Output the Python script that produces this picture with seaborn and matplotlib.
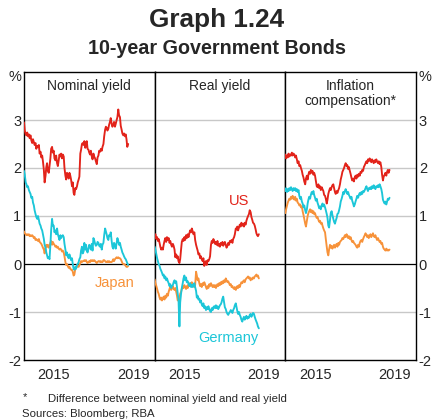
import numpy as np
import pandas as pd
import matplotlib
matplotlib.use("Agg")
import matplotlib.pyplot as plt
import seaborn as sns

# ---------------- data (semi-monthly observations, Jan 2014 - Apr 2019) ----------------
start_date = "2014-01-01"
n_obs = 127
countries = ["Japan", "Germany", "US"]
measures = ["Nominal yield", "Real yield", "Inflation\ncompensation*"]

us_nominal = [
    2.95, 2.78, 2.70, 2.68, 2.74, 2.66, 2.70, 2.62, 2.68, 2.58, 2.52, 2.60,
    2.54, 2.48, 2.52, 2.40, 2.46, 2.44, 2.48, 2.30, 2.34, 2.22, 2.26, 2.14,
    1.96, 1.70, 1.84, 2.02, 2.10, 1.94, 1.90, 2.04, 2.20, 2.40, 2.44, 2.32,
    2.36, 2.20, 2.16, 2.26, 2.10, 2.04, 2.16, 2.28, 2.24, 2.30, 2.20, 2.28,
    2.24, 2.00, 1.84, 1.76, 1.90, 1.84, 1.78, 1.90, 1.84, 1.76, 1.62, 1.70,
    1.48, 1.44, 1.58, 1.56, 1.62, 1.70, 1.76, 1.82, 2.30, 2.38, 2.50, 2.52,
    2.48, 2.56, 2.42, 2.52, 2.56, 2.40, 2.38, 2.32, 2.28, 2.36, 2.24, 2.18,
    2.30, 2.24, 2.20, 2.14, 2.08, 2.22, 2.26, 2.36, 2.34, 2.40, 2.36, 2.44,
    2.50, 2.66, 2.80, 2.86, 2.84, 2.78, 2.82, 2.90, 2.96, 3.04, 2.92, 2.86,
    2.90, 2.96, 2.86, 2.92, 3.00, 3.06, 3.22, 3.10, 3.06, 2.88, 2.80, 2.72,
    2.68, 2.72, 2.66, 2.70, 2.60, 2.44, 2.50,
]
germany_nominal = [
    1.94, 1.86, 1.70, 1.66, 1.60, 1.62, 1.54, 1.50, 1.46, 1.38, 1.40, 1.28,
    1.22, 1.12, 1.04, 0.98, 0.94, 1.00, 0.92, 0.84, 0.80, 0.74, 0.70, 0.62,
    0.52, 0.40, 0.34, 0.24, 0.18, 0.12, 0.14, 0.10, 0.40, 0.70, 0.94, 0.80,
    0.80, 0.66, 0.70, 0.62, 0.74, 0.62, 0.56, 0.50, 0.60, 0.54, 0.58, 0.60,
    0.56, 0.42, 0.30, 0.18, 0.24, 0.16, 0.12, 0.20, 0.14, 0.08, 0.12, 0.00,
    -0.10, -0.12, -0.06, -0.10, -0.02, 0.00, 0.04, 0.10, 0.14, 0.28, 0.36, 0.22,
    0.26, 0.44, 0.30, 0.40, 0.28, 0.24, 0.32, 0.40, 0.36, 0.30, 0.42, 0.28,
    0.54, 0.50, 0.42, 0.38, 0.40, 0.46, 0.44, 0.38, 0.36, 0.42, 0.30, 0.40,
    0.44, 0.60, 0.74, 0.68, 0.62, 0.54, 0.50, 0.60, 0.58, 0.66, 0.48, 0.36,
    0.32, 0.44, 0.40, 0.32, 0.44, 0.54, 0.48, 0.40, 0.44, 0.36, 0.30, 0.24,
    0.20, 0.16, 0.12, 0.10, 0.06, 0.02, -0.02,
]
japan_nominal = [
    0.68, 0.64, 0.62, 0.60, 0.62, 0.60, 0.62, 0.58, 0.60, 0.58, 0.60, 0.58,
    0.54, 0.56, 0.50, 0.52, 0.50, 0.48, 0.52, 0.46, 0.44, 0.42, 0.38, 0.34,
    0.30, 0.22, 0.34, 0.40, 0.36, 0.40, 0.34, 0.38, 0.44, 0.48, 0.40, 0.46,
    0.42, 0.40, 0.36, 0.38, 0.34, 0.36, 0.32, 0.30, 0.32, 0.30, 0.26, 0.28,
    0.24, 0.16, 0.04, -0.02, 0.00, -0.04, -0.08, -0.06, -0.10, -0.12, -0.12, -0.16,
    -0.24, -0.22, -0.10, -0.06, -0.06, -0.04, -0.06, -0.02, 0.02, 0.06, 0.04, 0.06,
    0.06, 0.08, 0.06, 0.08, 0.04, 0.02, 0.04, 0.06, 0.04, 0.08, 0.06, 0.08,
    0.06, 0.08, 0.06, 0.04, 0.02, 0.04, 0.06, 0.06, 0.04, 0.06, 0.04, 0.04,
    0.08, 0.08, 0.06, 0.04, 0.04, 0.06, 0.04, 0.06, 0.04, 0.04, 0.04, 0.06,
    0.10, 0.06, 0.10, 0.12, 0.14, 0.12, 0.14, 0.12, 0.12, 0.10, 0.06, 0.02,
    0.00, 0.00, -0.02, -0.04, -0.06, -0.06, -0.04,
]
us_real = [
    0.58, 0.62, 0.52, 0.56, 0.48, 0.52, 0.44, 0.36, 0.30, 0.34, 0.30, 0.40,
    0.48, 0.54, 0.46, 0.56, 0.50, 0.54, 0.44, 0.48, 0.40, 0.36, 0.42, 0.38,
    0.30, 0.14, 0.20, 0.12, 0.16, 0.06, 0.02, 0.10, 0.30, 0.46, 0.52, 0.48,
    0.56, 0.50, 0.60, 0.54, 0.62, 0.56, 0.64, 0.70, 0.66, 0.74, 0.68, 0.62,
    0.66, 0.50, 0.40, 0.34, 0.28, 0.20, 0.22, 0.12, 0.16, 0.10, 0.06, 0.12,
    -0.04, 0.02, 0.06, -0.02, 0.08, 0.06, 0.10, 0.16, 0.40, 0.48, 0.44, 0.52,
    0.48, 0.42, 0.46, 0.40, 0.48, 0.38, 0.42, 0.36, 0.44, 0.40, 0.46, 0.38,
    0.42, 0.46, 0.40, 0.34, 0.38, 0.44, 0.40, 0.48, 0.46, 0.50, 0.44, 0.52,
    0.56, 0.62, 0.74, 0.72, 0.78, 0.70, 0.76, 0.82, 0.78, 0.86, 0.80, 0.84,
    0.78, 0.86, 0.82, 0.90, 0.96, 1.00, 1.04, 1.12, 1.08, 0.98, 0.92, 0.86,
    0.84, 0.80, 0.72, 0.64, 0.60, 0.58, 0.62,
]
germany_real = [
    0.36, 0.30, 0.20, 0.12, 0.06, 0.00, -0.04, -0.10, -0.14, -0.18, -0.24, -0.22,
    -0.30, -0.26, -0.34, -0.30, -0.36, -0.40, -0.46, -0.42, -0.50, -0.46, -0.44, -0.38,
    -0.34, -0.40, -0.36, -0.48, -0.62, -0.74, -1.30, -0.80, -0.62, -0.50, -0.40, -0.30,
    -0.24, -0.34, -0.28, -0.38, -0.36, -0.42, -0.46, -0.40, -0.48, -0.44, -0.48, -0.42,
    -0.40, -0.48, -0.56, -0.70, -0.66, -0.74, -0.72, -0.80, -0.76, -0.84, -0.88, -0.82,
    -0.92, -0.88, -0.96, -0.90, -0.94, -0.88, -0.94, -0.98, -1.00, -0.92, -0.96, -0.90,
    -0.88, -0.92, -0.86, -0.92, -0.88, -0.94, -0.90, -0.86, -0.84, -0.80, -0.72, -0.68,
    -0.80, -0.90, -0.94, -1.00, -1.04, -1.06, -1.02, -1.00, -0.96, -0.98, -1.02, -0.96,
    -0.92, -0.86, -0.82, -0.90, -0.98, -1.04, -1.00, -1.06, -1.10, -1.16, -1.20, -1.14,
    -1.10, -1.16, -1.12, -1.08, -1.14, -1.10, -1.12, -1.06, -1.04, -1.10, -1.06, -1.02,
    -1.04, -1.10, -1.16, -1.20, -1.24, -1.30, -1.34,
]
japan_real = [
    -0.32, -0.40, -0.46, -0.52, -0.58, -0.62, -0.70, -0.74, -0.70, -0.76, -0.72, -0.68,
    -0.74, -0.66, -0.70, -0.62, -0.66, -0.58, -0.52, -0.48, -0.54, -0.50, -0.46, -0.52,
    -0.54, -0.50, -0.58, -0.66, -0.76, -0.70, -0.74, -0.62, -0.58, -0.52, -0.48, -0.50,
    -0.44, -0.48, -0.52, -0.46, -0.50, -0.42, -0.46, -0.40, -0.44, -0.38, -0.42, -0.46,
    -0.48, -0.44, -0.16, -0.24, -0.34, -0.30, -0.40, -0.46, -0.42, -0.48, -0.40, -0.44,
    -0.38, -0.42, -0.48, -0.52, -0.46, -0.50, -0.42, -0.46, -0.40, -0.44, -0.48, -0.44,
    -0.48, -0.44, -0.50, -0.46, -0.42, -0.46, -0.40, -0.44, -0.38, -0.42, -0.36, -0.40,
    -0.34, -0.38, -0.30, -0.34, -0.38, -0.36, -0.40, -0.44, -0.42, -0.48, -0.46, -0.50,
    -0.52, -0.48, -0.54, -0.50, -0.46, -0.50, -0.44, -0.48, -0.42, -0.38, -0.40, -0.36,
    -0.34, -0.38, -0.32, -0.30, -0.28, -0.26, -0.30, -0.28, -0.34, -0.30, -0.32, -0.28,
    -0.30, -0.26, -0.24, -0.22, -0.26, -0.24, -0.30,
]
us_inflation = [
    2.28, 2.20, 2.26, 2.22, 2.30, 2.24, 2.28, 2.26, 2.32, 2.26, 2.30, 2.28,
    2.22, 2.26, 2.18, 2.10, 2.14, 2.04, 2.06, 2.00, 1.94, 1.86, 1.80, 1.72,
    1.66, 1.78, 1.84, 1.76, 1.86, 1.92, 1.88, 1.96, 1.90, 1.94, 1.86, 1.90,
    1.84, 1.74, 1.62, 1.60, 1.66, 1.58, 1.62, 1.54, 1.60, 1.56, 1.52, 1.44,
    1.42, 1.36, 1.26, 1.34, 1.46, 1.52, 1.58, 1.54, 1.60, 1.64, 1.66, 1.58,
    1.50, 1.46, 1.52, 1.48, 1.54, 1.58, 1.66, 1.76, 1.84, 1.92, 1.96, 2.00,
    2.06, 2.10, 2.04, 2.06, 1.98, 2.02, 1.94, 1.88, 1.80, 1.74, 1.78, 1.72,
    1.80, 1.84, 1.78, 1.86, 1.82, 1.88, 1.84, 1.92, 1.90, 1.96, 1.94, 2.02,
    2.06, 2.10, 2.14, 2.10, 2.18, 2.14, 2.20, 2.16, 2.12, 2.18, 2.14, 2.10,
    2.16, 2.12, 2.18, 2.14, 2.10, 2.14, 2.08, 2.12, 2.02, 1.86, 1.74, 1.82,
    1.86, 1.90, 1.84, 1.92, 1.96, 1.90, 1.96,
]
germany_inflation = [
    1.52, 1.58, 1.50, 1.56, 1.52, 1.58, 1.54, 1.60, 1.56, 1.52, 1.58, 1.54,
    1.58, 1.52, 1.56, 1.50, 1.54, 1.42, 1.36, 1.40, 1.30, 1.26, 1.18, 1.22,
    1.12, 1.06, 1.14, 1.26, 1.34, 1.40, 1.36, 1.44, 1.50, 1.46, 1.52, 1.44,
    1.38, 1.32, 1.36, 1.28, 1.22, 1.16, 1.20, 1.14, 1.22, 1.26, 1.20, 1.24,
    1.18, 1.12, 1.04, 0.96, 0.80, 0.76, 0.92, 1.06, 1.10, 1.02, 0.94, 0.88,
    0.84, 0.90, 0.96, 1.04, 1.06, 1.12, 1.20, 1.30, 1.36, 1.42, 1.50, 1.46,
    1.52, 1.56, 1.50, 1.46, 1.50, 1.44, 1.40, 1.36, 1.40, 1.32, 1.26, 1.20,
    1.24, 1.30, 1.36, 1.42, 1.38, 1.44, 1.48, 1.44, 1.50, 1.46, 1.52, 1.50,
    1.54, 1.58, 1.62, 1.56, 1.52, 1.58, 1.56, 1.60, 1.56, 1.62, 1.58, 1.64,
    1.60, 1.56, 1.62, 1.60, 1.64, 1.60, 1.66, 1.62, 1.56, 1.48, 1.34, 1.30,
    1.26, 1.30, 1.24, 1.30, 1.36, 1.34, 1.38,
]
japan_inflation = [
    1.06, 1.14, 1.22, 1.28, 1.32, 1.36, 1.34, 1.40, 1.36, 1.42, 1.38, 1.34,
    1.40, 1.32, 1.36, 1.28, 1.26, 1.22, 1.24, 1.18, 1.20, 1.10, 1.02, 0.94,
    0.84, 0.78, 0.90, 1.00, 1.06, 1.10, 1.14, 1.08, 1.12, 1.06, 1.10, 1.04,
    1.06, 1.00, 0.96, 0.98, 0.92, 0.88, 0.90, 0.84, 0.86, 0.80, 0.74, 0.70,
    0.66, 0.52, 0.36, 0.24, 0.18, 0.30, 0.40, 0.34, 0.38, 0.32, 0.36, 0.40,
    0.34, 0.38, 0.42, 0.36, 0.44, 0.40, 0.46, 0.48, 0.50, 0.54, 0.52, 0.56,
    0.60, 0.56, 0.62, 0.58, 0.54, 0.58, 0.52, 0.56, 0.50, 0.46, 0.48, 0.44,
    0.42, 0.40, 0.36, 0.34, 0.40, 0.36, 0.44, 0.48, 0.50, 0.46, 0.52, 0.56,
    0.60, 0.64, 0.60, 0.56, 0.60, 0.54, 0.58, 0.62, 0.56, 0.60, 0.64, 0.58,
    0.56, 0.60, 0.54, 0.50, 0.54, 0.50, 0.46, 0.48, 0.42, 0.44, 0.36, 0.32,
    0.30, 0.28, 0.32, 0.28, 0.30, 0.28, 0.30,
]

y_ticks = [-2, -1, 0, 1, 2, 3]
y_tick_labels = ["-2", "-1", "0", "1", "2", "3"]
x_label_years = [2015, 2019]

# ---------------- build long table ----------------
dates = pd.date_range(start_date, periods=n_obs, freq="SMS")
year_frac = dates.year + (dates.dayofyear - 1) / 365.0

series = {
    ("Nominal yield", "US"): us_nominal,
    ("Nominal yield", "Germany"): germany_nominal,
    ("Nominal yield", "Japan"): japan_nominal,
    ("Real yield", "US"): us_real,
    ("Real yield", "Germany"): germany_real,
    ("Real yield", "Japan"): japan_real,
    ("Inflation\ncompensation*", "US"): us_inflation,
    ("Inflation\ncompensation*", "Germany"): germany_inflation,
    ("Inflation\ncompensation*", "Japan"): japan_inflation,
}
frames = []
for (m, c), vals in series.items():
    assert len(vals) == n_obs, (m, c, len(vals))
    frames.append(pd.DataFrame({"year": year_frac, "value": vals, "measure": m, "country": c}))
df = pd.concat(frames, ignore_index=True)

palette = {"US": "#E2231A", "Germany": "#1CC6D8", "Japan": "#F7923A"}

# ---------------- figure ----------------
sns.set_style("white")
plt.rcParams["font.family"] = ["Liberation Sans", "DejaVu Sans"]
plt.rcParams["axes.unicode_minus"] = False

FW, FH = 433, 420
fig = plt.figure(figsize=(FW / 100, FH / 100), dpi=100)
left, right, top, bottom = 24, 416, 72, 360
pw = (right - left) / 3
axes = []
for k, m in enumerate(measures):
    ax = fig.add_axes([(left + k * pw) / FW, 1 - bottom / FH, pw / FW, (bottom - top) / FH])
    axes.append(ax)
    for yv in [1, 2, 3, -1]:
        ax.axhline(yv, color="#C8C8C8", lw=1.0, zorder=0)
    ax.axhline(0, color="black", lw=0.9, zorder=1)
    sub = df[df["measure"] == m]
    sns.lineplot(data=sub, x="year", y="value", hue="country", hue_order=countries,
                 palette=palette, legend=False, lw=1.35, ax=ax, zorder=3)
    ax.set_xlim(2014.0, 2020.58)
    ax.set_ylim(-2, 4)
    ax.set_xlabel("")
    ax.set_ylabel("")
    for s in ax.spines.values():
        s.set_visible(True)
        s.set_color("black")
        s.set_linewidth(1.0)
    ax.set_xticks([y + 0.5 for y in x_label_years])
    ax.set_xticklabels([str(y) for y in x_label_years], fontsize=10.5)
    ax.set_xticks(list(range(2015, 2021)), minor=True)
    ax.tick_params(axis="x", which="major", length=0, pad=6)
    ax.tick_params(axis="x", which="minor", direction="in", length=4, width=0.8, color="black")
    ax.set_yticks(y_ticks)
    if k == 0:
        ax.set_yticklabels(y_tick_labels, fontsize=10.5)
        ax.tick_params(axis="y", length=0, pad=2, left=True, right=False,
                       labelleft=True, labelright=False)
    elif k == 2:
        ax.set_yticklabels(y_tick_labels, fontsize=10.5)
        ax.tick_params(axis="y", length=0, pad=2, left=False, right=True,
                       labelleft=False, labelright=True)
    else:
        ax.tick_params(axis="y", length=0, labelleft=False, labelright=False)
    ax.text(0.5, 0.975, m, transform=ax.transAxes, ha="center", va="top",
            fontsize=10, linespacing=1.1)

# series labels
axes[1].text(2018.24, 1.31, "US", color=palette["US"], fontsize=10.5, ha="center", va="center")
axes[1].text(2017.69, -1.54, "Germany", color=palette["Germany"], fontsize=10.5, ha="center", va="center")
axes[0].text(2018.57, -0.40, "Japan", color=palette["Japan"], fontsize=10.5, ha="center", va="center")

# % units
fig.text(15 / FW, 1 - 77 / FH, "%", ha="center", va="center", fontsize=10.5)
fig.text(425 / FW, 1 - 77 / FH, "%", ha="center", va="center", fontsize=10.5)

# titles
fig.text(0.5, 1 - 20 / FH, "Graph 1.24", ha="center", va="center", fontsize=18.8, fontweight="bold")
fig.text(0.5, 1 - 48 / FH, "10-year Government Bonds", ha="center", va="center", fontsize=14.2, fontweight="bold")

# footnotes
fig.text(25 / FW, 1 - 397 / FH, "*", ha="center", va="center", fontsize=8)
fig.text(48 / FW, 1 - 399 / FH, "Difference between nominal yield and real yield", ha="left", va="center", fontsize=8.2)
fig.text(22 / FW, 1 - 414 / FH, "Sources: Bloomberg; RBA", ha="left", va="center", fontsize=8.2)

fig.savefig("out.png", dpi=100)
